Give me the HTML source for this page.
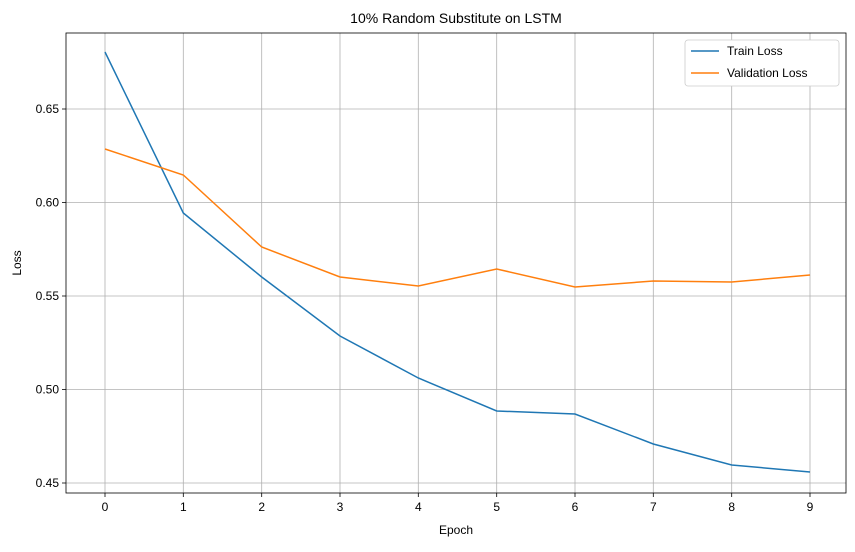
<!DOCTYPE html>
<html><head><style>body{margin:0;background:#fff}</style></head><body>
<svg width="855" height="547" xmlns="http://www.w3.org/2000/svg" font-family="Liberation Sans, DejaVu Sans, sans-serif" font-size="12">
<rect width="855" height="547" fill="#fff"/>
<g stroke="#b0b0b0" stroke-width="0.8">
<line x1="105" y1="33" x2="105" y2="493"/><line x1="183.3" y1="33" x2="183.3" y2="493"/><line x1="261.7" y1="33" x2="261.7" y2="493"/><line x1="340" y1="33" x2="340" y2="493"/><line x1="418.3" y1="33" x2="418.3" y2="493"/><line x1="496.7" y1="33" x2="496.7" y2="493"/><line x1="575" y1="33" x2="575" y2="493"/><line x1="653.3" y1="33" x2="653.3" y2="493"/><line x1="731.7" y1="33" x2="731.7" y2="493"/><line x1="810" y1="33" x2="810" y2="493"/>
<line x1="66" y1="109" x2="846" y2="109"/><line x1="66" y1="202.5" x2="846" y2="202.5"/><line x1="66" y1="296" x2="846" y2="296"/><line x1="66" y1="389.5" x2="846" y2="389.5"/><line x1="66" y1="483" x2="846" y2="483"/>
</g>
<rect x="66" y="33" width="780" height="460" fill="none" stroke="#000" stroke-width="0.8"/>
<g stroke="#000" stroke-width="0.8">
<line x1="105" y1="493" x2="105" y2="497"/><line x1="183.3" y1="493" x2="183.3" y2="497"/><line x1="261.7" y1="493" x2="261.7" y2="497"/><line x1="340" y1="493" x2="340" y2="497"/><line x1="418.3" y1="493" x2="418.3" y2="497"/><line x1="496.7" y1="493" x2="496.7" y2="497"/><line x1="575" y1="493" x2="575" y2="497"/><line x1="653.3" y1="493" x2="653.3" y2="497"/><line x1="731.7" y1="493" x2="731.7" y2="497"/><line x1="810" y1="493" x2="810" y2="497"/>
<line x1="62" y1="109" x2="66" y2="109"/><line x1="62" y1="202.5" x2="66" y2="202.5"/><line x1="62" y1="296" x2="66" y2="296"/><line x1="62" y1="389.5" x2="66" y2="389.5"/><line x1="62" y1="483" x2="66" y2="483"/>
</g>
<g text-anchor="middle" fill="#000">
<text x="105" y="511">0</text><text x="183.3" y="511">1</text><text x="261.7" y="511">2</text><text x="340" y="511">3</text><text x="418.3" y="511">4</text><text x="496.7" y="511">5</text><text x="575" y="511">6</text><text x="653.3" y="511">7</text><text x="731.7" y="511">8</text><text x="810" y="511">9</text>
<text x="456" y="534">Epoch</text>
<text x="456" y="23" font-size="14">10% Random Substitute on LSTM</text>
</g>
<g text-anchor="end" fill="#000">
<text x="59" y="113">0.65</text><text x="59" y="206.5">0.60</text><text x="59" y="300">0.55</text><text x="59" y="393.5">0.50</text><text x="59" y="487">0.45</text>
</g>
<text transform="translate(21,263) rotate(-90)" text-anchor="middle">Loss</text>
<polyline fill="none" stroke="#1f77b4" stroke-width="1.5" points="105,52 183.3,213 261.7,277 340,336 418.3,378 496.7,411 575,414 653.3,444 731.7,465 810,472"/>
<polyline fill="none" stroke="#ff7f0e" stroke-width="1.5" points="105,149 183.3,175 261.7,247 340,277 418.3,286 496.7,269 575,287 653.3,281 731.7,282 810,275"/>
<rect x="685" y="40" width="154" height="46" rx="3" fill="#fff" stroke="#ccc" stroke-width="0.8"/>
<line x1="691" y1="51" x2="719" y2="51" stroke="#1f77b4" stroke-width="1.5"/>
<line x1="691" y1="73" x2="719" y2="73" stroke="#ff7f0e" stroke-width="1.5"/>
<text x="727" y="55">Train Loss</text>
<text x="727" y="77">Validation Loss</text>
</svg>
</body></html>
